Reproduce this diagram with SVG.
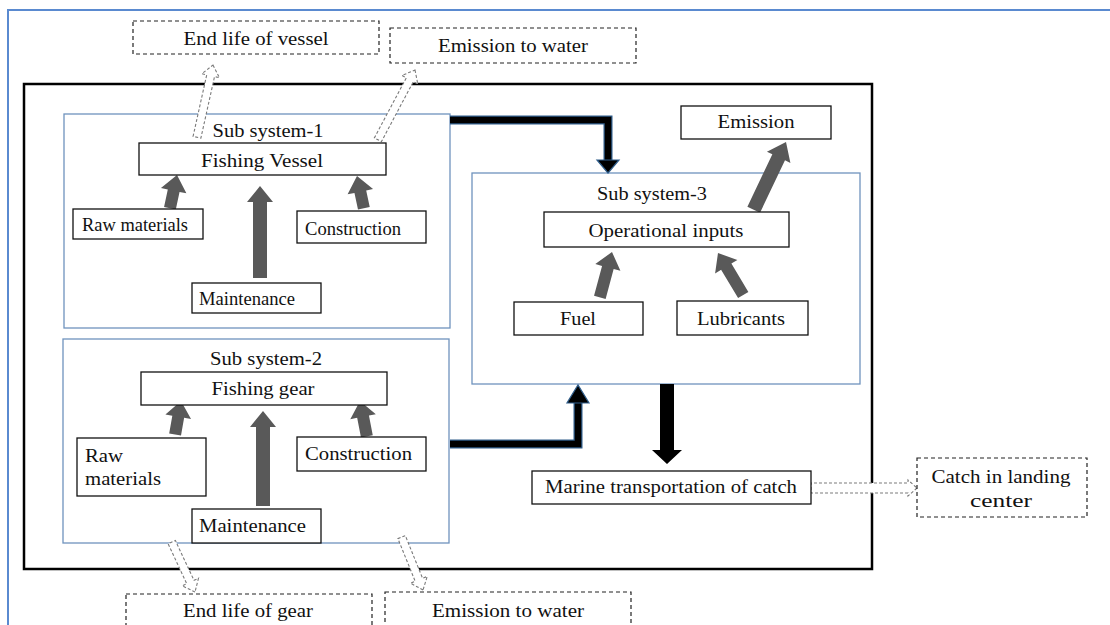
<svg xmlns="http://www.w3.org/2000/svg" width="1110" height="625" viewBox="0 0 1110 625">
<style>
text{font-family:"Liberation Serif","Times New Roman","DejaVu Serif",serif;font-size:18px;fill:#111}
.c{text-anchor:middle}
.box{fill:#fff;stroke:#111;stroke-width:1.3}
.dbox{fill:#fff;stroke:#222;stroke-width:1.2;stroke-dasharray:4 3}
.sub{fill:#fff;stroke:#6f93bd;stroke-width:1.3}
.ga{fill:#595959}
.ha{fill:#fff;stroke:#7a7a7a;stroke-width:1.1;stroke-dasharray:3 2}
.thk{fill:none;stroke:#2f5d8a;stroke-width:9}
.thk2{fill:none;stroke:#000;stroke-width:6.5}
.hd{fill:#000;stroke:#2f5d8a;stroke-width:1.2}
</style>
<rect width="1110" height="625" fill="#fff"/>
<path d="M8,625 V10 H1110" fill="none" stroke="#5a8ad0" stroke-width="2"/>
<rect id="system" x="24" y="84" width="848" height="485" fill="none" stroke="#000" stroke-width="2.5"/>

<g id="sub1">
<rect class="sub" x="64" y="114" width="386" height="214"/>
<text class="c" x="268" y="137" textLength="111" lengthAdjust="spacingAndGlyphs">Sub system-1</text>
</g>
<g id="sub2">
<rect class="sub" x="63" y="339" width="386" height="204"/>
<text class="c" x="266" y="365" textLength="112" lengthAdjust="spacingAndGlyphs">Sub system-2</text>
</g>
<g id="sub3">
<rect class="sub" x="472" y="173" width="388" height="211"/>
<text class="c" x="652" y="200" textLength="110" lengthAdjust="spacingAndGlyphs">Sub system-3</text>
</g>

<g id="connectors">
<g class="ga">
<polygon transform="translate(177,175) rotate(12)" points="0,0 13,16 6,16 6,34 -6,34 -6,16 -13,16"/>
<polygon transform="translate(260,186)" points="0,0 13,16 7,16 7,92 -7,92 -7,16 -13,16"/>
<polygon transform="translate(357,176) rotate(-12)" points="0,0 13,16 6,16 6,33 -6,33 -6,16 -13,16"/>
<polygon transform="translate(181,401) rotate(10)" points="0,0 13,16 6,16 6,34 -6,34 -6,16 -13,16"/>
<polygon transform="translate(263,411)" points="0,0 13,16 7,16 7,95 -7,95 -7,16 -13,16"/>
<polygon transform="translate(360,401) rotate(-11)" points="0,0 13,16 6,16 6,36 -6,36 -6,16 -13,16"/>
<polygon transform="translate(612,252) rotate(15)" points="0,0 13,16 6,16 6,47 -6,47 -6,16 -13,16"/>
<polygon transform="translate(718,253) rotate(-31)" points="0,0 13,16 6,16 6,49 -6,49 -6,16 -13,16"/>
<polygon transform="translate(786,142) rotate(25.5)" points="0,0 13,17 7,17 7,75 -7,75 -7,17 -13,17"/>
</g>
<polygon class="ha" transform="translate(213,65) rotate(12.5)" points="0,0 9,11 4,11 4,74 -4,74 -4,11 -9,11"/>
<polygon class="ha" transform="translate(415,70) rotate(28)" points="0,0 9,11 4,11 4,79 -4,79 -4,11 -9,11"/>
<polygon class="ha" transform="translate(195,592) rotate(155)" points="0,0 9,11 4,11 4,55 -4,55 -4,11 -9,11"/>
<polygon class="ha" transform="translate(423,590) rotate(158)" points="0,0 9,11 4,11 4,57 -4,57 -4,11 -9,11"/>
<polygon class="ha" transform="translate(917,488) rotate(90)" points="0,0 8,9 5,9 5,106 -5,106 -5,9 -8,9"/>
<path class="thk" d="M450,120 H608 V161"/>
<path class="thk2" d="M450,120 H608 V161"/>
<polygon class="hd" points="597,160 619,160 608,173"/>
<path class="thk" d="M450,444 H578 V402"/>
<path class="thk2" d="M450,444 H578 V402"/>
<polygon class="hd" points="567,403 589,403 578,385"/>
<path d="M660,384 H674 V450 H682 L667,464 L652,450 H660 Z" fill="#000"/>
</g>

<g id="end-life-vessel"><rect class="dbox" x="133" y="21" width="246" height="33"/><text class="c" x="256" y="45" textLength="145" lengthAdjust="spacingAndGlyphs">End life of vessel</text></g>
<g id="emission-water-top"><rect class="dbox" x="390" y="28" width="246" height="35"/><text class="c" x="513" y="52" textLength="150" lengthAdjust="spacingAndGlyphs">Emission to water</text></g>
<g id="fishing-vessel"><rect class="box" x="139" y="143" width="247" height="32"/><text class="c" x="262" y="167" textLength="122" lengthAdjust="spacingAndGlyphs">Fishing Vessel</text></g>
<g id="raw1"><rect class="box" x="73" y="209" width="130" height="30"/><text x="82" y="231" textLength="106" lengthAdjust="spacingAndGlyphs">Raw materials</text></g>
<g id="construction1"><rect class="box" x="297" y="211" width="129" height="32"/><text x="305" y="235" textLength="96" lengthAdjust="spacingAndGlyphs">Construction</text></g>
<g id="maintenance1"><rect class="box" x="192" y="283" width="129" height="30"/><text x="199" y="305" textLength="96" lengthAdjust="spacingAndGlyphs">Maintenance</text></g>
<g id="fishing-gear"><rect class="box" x="141" y="372" width="246" height="33"/><text class="c" x="263" y="395" textLength="103" lengthAdjust="spacingAndGlyphs">Fishing gear</text></g>
<g id="raw2"><rect class="box" x="77" y="438" width="129" height="58"/><text x="85" y="462" textLength="38" lengthAdjust="spacingAndGlyphs">Raw</text><text x="85" y="485" textLength="76" lengthAdjust="spacingAndGlyphs">materials</text></g>
<g id="construction2"><rect class="box" x="297" y="437" width="129" height="34"/><text x="305" y="460" textLength="107" lengthAdjust="spacingAndGlyphs">Construction</text></g>
<g id="maintenance2"><rect class="box" x="192" y="509" width="129" height="34"/><text x="199" y="532" textLength="107" lengthAdjust="spacingAndGlyphs">Maintenance</text></g>
<g id="emission"><rect class="box" x="681" y="106" width="150" height="33"/><text class="c" x="756" y="128" textLength="77" lengthAdjust="spacingAndGlyphs">Emission</text></g>
<g id="operational"><rect class="box" x="544" y="212" width="245" height="35"/><text class="c" x="666" y="237" textLength="155" lengthAdjust="spacingAndGlyphs">Operational inputs</text></g>
<g id="fuel"><rect class="box" x="514" y="302" width="129" height="33"/><text class="c" x="578" y="325" textLength="36" lengthAdjust="spacingAndGlyphs">Fuel</text></g>
<g id="lubricants"><rect class="box" x="677" y="301" width="131" height="34"/><text class="c" x="741" y="325" textLength="88" lengthAdjust="spacingAndGlyphs">Lubricants</text></g>
<g id="marine"><rect class="box" x="532" y="471" width="279" height="33"/><text class="c" x="671" y="493" textLength="252" lengthAdjust="spacingAndGlyphs">Marine transportation of catch</text></g>
<g id="catch"><rect class="dbox" x="917" y="458" width="170" height="59"/><text class="c" x="1001" y="483" textLength="139" lengthAdjust="spacingAndGlyphs">Catch in landing</text><text class="c" x="1001" y="507" textLength="62" lengthAdjust="spacingAndGlyphs">center</text></g>
<g id="end-life-gear"><rect class="dbox" x="126" y="594" width="246" height="40"/><text class="c" x="248" y="617" textLength="130" lengthAdjust="spacingAndGlyphs">End life of gear</text></g>
<g id="emission-water-bottom"><rect class="dbox" x="385" y="592" width="246" height="42"/><text class="c" x="508" y="617" textLength="152" lengthAdjust="spacingAndGlyphs">Emission to water</text></g>
</svg>
